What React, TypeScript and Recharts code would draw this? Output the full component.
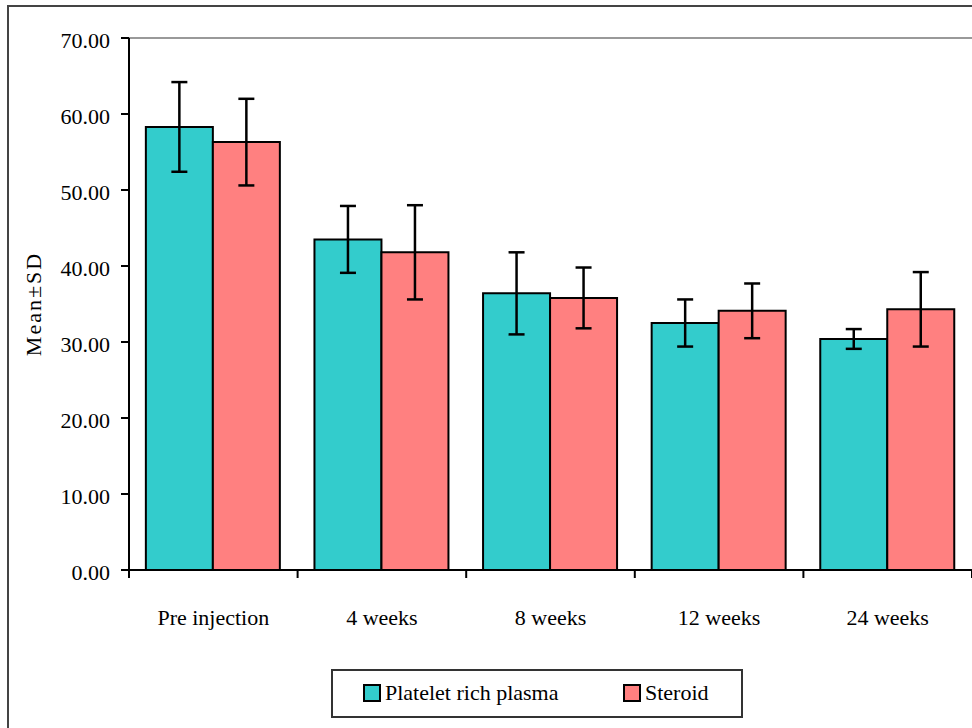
import React from 'react';
import { BarChart, Bar, XAxis, YAxis, ErrorBar, ReferenceLine } from 'recharts';

const categories = ['Pre injection', '4 weeks', '8 weeks', '12 weeks', '24 weeks'];
const prpMean = [58.3, 43.5, 36.4, 32.5, 30.4];
const prpSd = [5.9, 4.4, 5.4, 3.1, 1.3];
const steroidMean = [56.3, 41.8, 35.8, 34.1, 34.3];
const steroidSd = [5.7, 6.2, 4.0, 3.6, 4.9];
const yTicks = [0, 10, 20, 30, 40, 50, 60, 70];
const seriesNames = ['Platelet rich plasma', 'Steroid'];
const seriesColors = ['#33CCCC', '#FF8080'];

const data = categories.map((c, i) => ({
  name: c,
  prp: prpMean[i],
  prpSd: prpSd[i],
  steroid: steroidMean[i],
  steroidSd: steroidSd[i],
}));

const FONT = '"Liberation Serif", "Times New Roman", serif';

const CategoryTick = (props: any) => {
  const { x, y, payload, index, visibleTicksCount } = props;
  const half = payload.offset ?? (972 - 129) / categories.length / 2;
  return (
    <g>
      <line x1={x - half} y1={y} x2={x - half} y2={y + 8} stroke="#000" strokeWidth={2} />
      {index === visibleTicksCount - 1 && (
        <line x1={x + half} y1={y} x2={x + half} y2={y + 8} stroke="#000" strokeWidth={2} />
      )}
      <text x={x} y={y + 55} textAnchor="middle" fontFamily={FONT} fontSize={22} fill="#000">
        {payload.value}
      </text>
    </g>
  );
};

const YLabel = (props: any) => {
  const vb = props.viewBox || { x: 0, y: 38, height: 532 };
  const cx = vb.x + 33;
  const cy = vb.y + vb.height / 2;
  return (
    <text x={cx} y={cy} transform={`rotate(-90 ${cx} ${cy})`} textAnchor="middle" dominantBaseline="central"
      fontFamily={FONT} fontSize={22} letterSpacing={2} fill="#000">
      Mean±SD
    </text>
  );
};

export default function App() {
  return (
    <div style={{ position: 'absolute', left: 0, top: 0, width: 972, height: 728, overflow: 'hidden', background: '#fff' }}>
      <div style={{ position: 'absolute', left: 7, top: 5, width: 980, height: 740, borderTop: '2px solid #444', borderLeft: '2px solid #444' }} />
      <div style={{ position: 'absolute', left: 0, top: 0 }}>
        <BarChart width={972} height={728} data={data} margin={{ top: 38, right: 0, left: 0, bottom: 108 }}
          barCategoryGap="10%" barGap={0}>
          <ReferenceLine y={70} stroke="#999" strokeWidth={2} ifOverflow="extendDomain" />
          <XAxis dataKey="name" height={50} axisLine={{ stroke: '#000', strokeWidth: 2 }} tickLine={false}
            tickSize={0} tickMargin={0} tick={<CategoryTick />} interval={0} />
          <YAxis width={129} domain={[0, 70]} ticks={yTicks} tickFormatter={(v: number) => v.toFixed(2)}
            axisLine={{ stroke: '#000', strokeWidth: 2 }} tickLine={{ stroke: '#000', strokeWidth: 2 }}
            tickSize={8} tickMargin={11} interval={0}
            tick={{ fontFamily: FONT, fontSize: 22, fill: '#000', dy: 2 }} label={<YLabel />} />
          <Bar dataKey="prp" name={seriesNames[0]} fill={seriesColors[0]} stroke="#000" strokeWidth={2} isAnimationActive={false}>
            <ErrorBar dataKey="prpSd" width={8} stroke="#000" strokeWidth={2.5} />
          </Bar>
          <Bar dataKey="steroid" name={seriesNames[1]} fill={seriesColors[1]} stroke="#000" strokeWidth={2} isAnimationActive={false}>
            <ErrorBar dataKey="steroidSd" width={8} stroke="#000" strokeWidth={2.5} />
          </Bar>
        </BarChart>
      </div>
      <div style={{ position: 'absolute', left: 331, top: 669, width: 408, height: 45, border: '2px solid #333',
        fontFamily: FONT, fontSize: 22, color: '#000' }}>
        {seriesNames.map((n, i) => (
          <div key={n} style={{ position: 'absolute', left: i === 0 ? 30 : 290, top: 9, display: 'flex', alignItems: 'center' }}>
            <span style={{ display: 'inline-block', width: 14, height: 14, background: seriesColors[i], border: '2px solid #000', marginRight: 4 }} />
            <span>{n}</span>
          </div>
        ))}
      </div>
    </div>
  );
}
